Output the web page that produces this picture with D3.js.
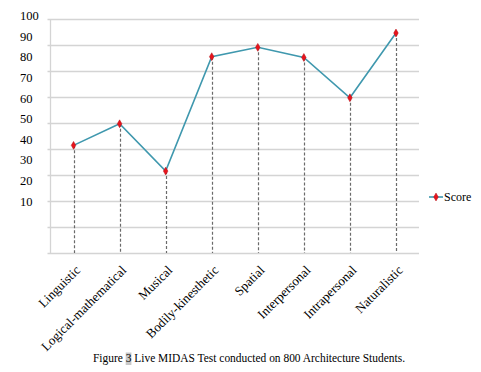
<!DOCTYPE html>
<html>
<head>
<meta charset="utf-8">
<script src="https://cdn.jsdelivr.net/npm/d3@7"></script>
<style>
  html, body { margin: 0; padding: 0; background: #ffffff; }
  svg { display: block; }
  text { font-family: "Liberation Serif", "Times New Roman", serif; fill: #000; }
</style>
</head>
<body>
<svg id="chart" width="481" height="372"></svg>
<script>
// ---- data ----
const categories = ["Linguistic", "Logical-mathematical", "Musical", "Bodily-kinesthetic",
                    "Spatial", "Interpersonal", "Intrapersonal", "Naturalistic"];
const scores = [41.4, 49.7, 31.5, 75.5, 79.1, 75.2, 59.7, 84.6];
const gridValues = [0, 10, 20, 30, 40, 50, 60, 70, 80, 90];
const yTickLabels = [100, 90, 80, 70, 60, 50, 40, 30, 20, 10];
const seriesName = "Score";
const captionParts = ["Figure ", "3", " Live MIDAS Test conducted on 800 Architecture Students."];

// ---- layout ----
const svg = d3.select("#chart");
const plot = { left: 50.5, right: 419, top: 19, bottom: 253 };
const lineColor = "#3f98ae";
const markerColor = "#e8141c";

const x = d3.scaleBand().domain(categories).range([plot.left, plot.right]);
const cx = d => x(d) + x.bandwidth() / 2;
const y = d3.scaleLinear().domain([0, 90]).range([plot.bottom, plot.top]);
// the printed tick labels sit on their own spacing in the source figure
const yl = d3.scaleLinear().domain([10, 100]).range([201.3, 15.8]);

const bg = svg.append("g");

// gridlines
svg.append("g").selectAll("line").data(gridValues).join("line")
  .attr("x1", plot.left - 3).attr("x2", plot.right)
  .attr("y1", d => Math.round(y(d)) + 0.5).attr("y2", d => Math.round(y(d)) + 0.5)
  .attr("stroke", "#d4d4d4").attr("stroke-width", 1.3);

// left axis line
svg.append("line")
  .attr("x1", plot.left).attr("x2", plot.left)
  .attr("y1", plot.top).attr("y2", plot.bottom + 0.5)
  .attr("stroke", "#d4d4d4").attr("stroke-width", 1.3);

// y labels
svg.append("g").selectAll("text").data(yTickLabels).join("text")
  .attr("x", 20).attr("y", d => yl(d)).attr("dy", "0.35em")
  .attr("font-size", 12.5).text(d => d);

// drop lines
svg.append("g").selectAll("line").data(categories).join("line")
  .attr("x1", d => Math.round(cx(d)) + 0.5).attr("x2", d => Math.round(cx(d)) + 0.5)
  .attr("y1", (d, i) => y(scores[i])).attr("y2", plot.bottom)
  .attr("stroke", "#6a6a6a").attr("stroke-width", 1.2)
  .attr("stroke-dasharray", "3,2");

// series line
const line = d3.line().x((d, i) => cx(categories[i])).y(d => y(d));
svg.append("path").datum(scores)
  .attr("d", line).attr("fill", "none")
  .attr("stroke", lineColor).attr("stroke-width", 1.6);

// markers
const diamond = d3.symbol().type(d3.symbolDiamond).size(18);
svg.append("g").selectAll("path").data(scores).join("path")
  .attr("d", diamond)
  .attr("transform", (d, i) => `translate(${cx(categories[i])},${y(d)})`)
  .attr("fill", markerColor).attr("stroke", "#b01018").attr("stroke-width", 0.5);

// x labels
svg.append("g").selectAll("text").data(categories).join("text")
  .attr("text-anchor", "end")
  .attr("font-size", 13)
  .attr("transform", d => `translate(${cx(d) + 7.5},${plot.bottom + 18}) rotate(-45)`)
  .text(d => d);

// legend
const lg = svg.append("g").attr("transform", "translate(429,197)");
lg.append("line").attr("x1", 0).attr("x2", 14).attr("y1", 0).attr("y2", 0)
  .attr("stroke", lineColor).attr("stroke-width", 1.6);
lg.append("path").attr("d", diamond).attr("transform", "translate(7,0)")
  .attr("fill", markerColor).attr("stroke", "#b01018").attr("stroke-width", 0.5);
lg.append("text").attr("x", 15).attr("y", 0).attr("dy", "0.35em")
  .attr("font-size", 12).text(seriesName);

// caption
const cap = svg.append("text").attr("x", 93).attr("y", 362).attr("font-size", 11.8)
  .attr("textLength", 312).attr("lengthAdjust", "spacingAndGlyphs");
cap.append("tspan").text(captionParts[0]);
cap.append("tspan").text(captionParts[1]);
cap.append("tspan").text(captionParts[2]);
try {
  const ext = cap.node().getExtentOfChar(captionParts[0].length);
  bg.append("rect")
    .attr("x", ext.x).attr("y", ext.y + 1.5).attr("width", ext.width).attr("height", ext.height - 1.5)
    .attr("fill", "#c8c8c8");
} catch (e) {}
</script>
</body>
</html>
